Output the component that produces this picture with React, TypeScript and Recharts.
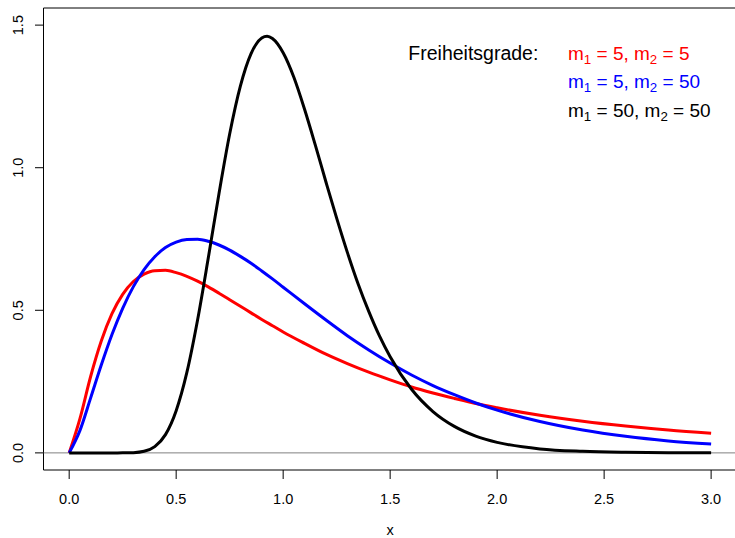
import React from 'react';
import { LineChart, Line, XAxis, YAxis, ReferenceArea, ReferenceLine, Customized } from 'recharts';

// F densities
const redX = [0, 0.05, 0.1, 0.15, 0.2, 0.25, 0.3, 0.35, 0.4, 0.45, 0.5, 0.55, 0.6, 0.65, 0.7, 0.75, 0.8, 0.85, 0.9, 0.95, 1.0, 1.1, 1.2, 1.3, 1.4, 1.5, 1.6, 1.7, 1.8, 1.9, 2.0, 2.2, 2.4, 2.6, 2.8, 3.0];
const redY = [0, 0.119, 0.267, 0.392, 0.488, 0.556, 0.601, 0.627, 0.639, 0.640, 0.632, 0.619, 0.602, 0.582, 0.560, 0.537, 0.514, 0.491, 0.468, 0.446, 0.424, 0.384, 0.346, 0.313, 0.283, 0.256, 0.231, 0.210, 0.191, 0.173, 0.158, 0.132, 0.111, 0.094, 0.080, 0.069];
const blueX = redX;
const blueY = [0, 0.078, 0.192, 0.308, 0.415, 0.507, 0.583, 0.643, 0.688, 0.720, 0.739, 0.748, 0.749, 0.742, 0.729, 0.711, 0.689, 0.665, 0.638, 0.610, 0.581, 0.523, 0.466, 0.411, 0.361, 0.315, 0.273, 0.236, 0.204, 0.175, 0.150, 0.110, 0.080, 0.058, 0.042, 0.031];
const blackX = [0, 0.1, 0.2, 0.25, 0.3, 0.35, 0.4, 0.45, 0.5, 0.55, 0.6, 0.65, 0.7, 0.75, 0.8, 0.85, 0.9, 0.925, 0.95, 1.0, 1.05, 1.1, 1.15, 1.2, 1.25, 1.3, 1.35, 1.4, 1.45, 1.5, 1.6, 1.7, 1.8, 1.9, 2.0, 2.2, 2.4, 2.6, 2.8, 3.0];
const blackY = [0, 0, 0, 0.0001, 0.0009, 0.0055, 0.022, 0.064, 0.148, 0.282, 0.466, 0.683, 0.909, 1.118, 1.286, 1.400, 1.455, 1.461, 1.453, 1.403, 1.317, 1.205, 1.080, 0.950, 0.823, 0.703, 0.593, 0.496, 0.410, 0.337, 0.223, 0.145, 0.093, 0.059, 0.037, 0.014, 0.0056, 0.0022, 0.0009, 0.0004];

const xTicks = [0, 0.5, 1.0, 1.5, 2.0, 2.5, 3.0];
const yTicks = [0, 0.5, 1.0, 1.5];
const xDomain = [-0.12, 3.12];
const yDomain = [-0.06, 1.56];
const legendTitle = 'Freiheitsgrade:';
const legendRows = [
  { m1: '5', m2: '5', color: '#ff0000' },
  { m1: '5', m2: '50', color: '#0000ff' },
  { m1: '50', m2: '50', color: '#000000' },
];

const toPts = (xs: number[], ys: number[]) => xs.map((x, i) => ({ x, y: ys[i] }));
const redData = toPts(redX, redY);
const blueData = toPts(blueX, blueY);
const blackData = toPts(blackX, blackY);

const FONT = '"Liberation Sans", Arial, Helvetica, sans-serif';

const XTick = (props: any) => (
  <text x={props.x} y={503.5} textAnchor="middle" fontSize={14.5} fontFamily={FONT} fill="#000">
    {Number(props.payload.value).toFixed(1)}
  </text>
);

const YTick = (props: any) => (
  <text
    x={23.5}
    y={props.y}
    transform={`rotate(-90, 23.5, ${props.y})`}
    textAnchor="middle"
    fontSize={14.5}
    fontFamily={FONT}
    fill="#000"
  >
    {Number(props.payload.value).toFixed(1)}
  </text>
);

const Legend = () => (
  <g fontFamily={FONT}>
    <text x={408.3} y={60} fontSize={19.5} fill="#000">{legendTitle}</text>
    {legendRows.map((r, i) => (
      <text key={i} x={568} y={60 + i * 28.3} fontSize={19} fill={r.color} xmlSpace="preserve">
        <tspan>m</tspan>
        <tspan fontSize={13.3} dy={4}>1</tspan>
        <tspan dy={-4}>{` = ${r.m1}, m`}</tspan>
        <tspan fontSize={13.3} dy={4}>2</tspan>
        <tspan dy={-4}>{` = ${r.m2}`}</tspan>
      </text>
    ))}
    <text x={390} y={535} textAnchor="middle" fontSize={14.5} fill="#000">x</text>
  </g>
);

export default function App() {
  return (
    <div style={{ position: 'absolute', left: 0, top: 0, width: 735, height: 538, overflow: 'hidden', background: '#fff' }}>
      <LineChart width={740} height={538} margin={{ top: 8, right: 3.2, left: 0, bottom: 0 }}>
        <XAxis
          type="number"
          dataKey="x"
          domain={xDomain}
          ticks={xTicks}
          interval={0}
          allowDataOverflow
          height={68}
          axisLine={false}
          tickSize={9}
          tickLine={{ stroke: '#000' }}
          tick={<XTick />}
        />
        <YAxis
          type="number"
          dataKey="y"
          domain={yDomain}
          ticks={yTicks}
          interval={0}
          allowDataOverflow
          width={43.5}
          axisLine={false}
          tickSize={8.5}
          tickLine={{ stroke: '#000' }}
          tick={<YTick />}
        />
        <ReferenceArea x1={xDomain[0]} x2={xDomain[1]} y1={yDomain[0]} y2={yDomain[1]} fill="none" stroke="#000" strokeWidth={1} fillOpacity={0} />
        <ReferenceLine y={0} stroke="#808080" strokeWidth={1} />
        <Line data={redData} dataKey="y" type="monotone" stroke="#ff0000" strokeWidth={3} dot={false} isAnimationActive={false} />
        <Line data={blueData} dataKey="y" type="monotone" stroke="#0000ff" strokeWidth={3} dot={false} isAnimationActive={false} />
        <Line data={blackData} dataKey="y" type="monotone" stroke="#000000" strokeWidth={3} dot={false} isAnimationActive={false} />
        <Customized component={Legend} />
      </LineChart>
    </div>
  );
}
